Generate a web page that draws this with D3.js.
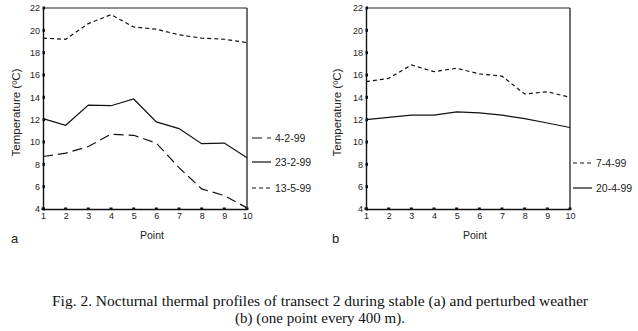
<!DOCTYPE html>
<html><head><meta charset="utf-8">
<script src="https://cdn.jsdelivr.net/npm/d3@7/dist/d3.min.js"></script>
<style>body{margin:0;background:#fff}svg{display:block}</style>
</head><body>
<svg id="c" width="638" height="331"></svg>
<script>
const points = [1,2,3,4,5,6,7,8,9,10];
const yTicks = [4,6,8,10,12,14,16,18,20,22];
// Panel a (stable weather)
const a_4_2_99  = [8.7, 9.0, 9.6, 10.7, 10.6, 9.9, 7.7, 5.8, 5.2, 4.1];
const a_23_2_99 = [12.1, 11.5, 13.3, 13.25, 13.85, 11.8, 11.2, 9.85, 9.9, 8.6];
const a_13_5_99 = [19.3, 19.2, 20.6, 21.4, 20.3, 20.1, 19.6, 19.3, 19.2, 18.9];
// Panel b (perturbed weather)
const b_7_4_99  = [15.4, 15.7, 16.9, 16.3, 16.6, 16.1, 15.9, 14.3, 14.5, 14.0];
const b_20_4_99 = [12.0, 12.2, 12.4, 12.4, 12.7, 12.6, 12.4, 12.1, 11.7, 11.3];
const legendA = ["4-2-99","23-2-99","13-5-99"];
const legendB = ["7-4-99","20-4-99"];
const caption1 = "Fig. 2. Nocturnal thermal profiles of transect 2 during stable (a) and perturbed weather";
const caption2 = "(b) (one point every 400 m).";

const svg = d3.select("#c");
const sans = "Arial, 'Liberation Sans', sans-serif";
const styles = {
  long: "10,5",
  short: "4,3",
  solid: null
};

function panel(cfg){
  const g = svg.append("g");
  const x = d3.scaleLinear().domain([1,10]).range([cfg.x0, cfg.x1]);
  const y = d3.scaleLinear().domain([4,22]).range([209, 8]);
  // frame (top & right)
  g.append("line").attr("x1",cfg.x0).attr("x2",cfg.x1).attr("y1",y(22)).attr("y2",y(22))
    .attr("stroke","#222").attr("stroke-width",1.2);
  g.append("line").attr("x1",cfg.x1).attr("x2",cfg.x1).attr("y1",y(22)).attr("y2",y(4))
    .attr("stroke","#222").attr("stroke-width",1.3);
  // axes
  const ya = g.append("g").attr("transform",`translate(${cfg.x0},0)`)
    .call(d3.axisLeft(y).tickValues(yTicks).tickSize(0).tickPadding(3).tickFormat(d3.format("d")));
  ya.select(".domain").attr("stroke","#111").attr("stroke-width",1.4);
  ya.selectAll("text").attr("font-family",sans).attr("font-size",9).attr("fill","#222");
  g.selectAll(".ytm").data(yTicks).join("rect").attr("class","ytm")
    .attr("x",cfg.x0-0.5).attr("y",d=>y(d)-1.5).attr("width",2.5).attr("height",3).attr("fill","#111");
  const xa = g.append("g").attr("transform",`translate(0,${y(4)})`)
    .call(d3.axisBottom(x).tickValues(points).tickSize(0).tickPadding(4).tickFormat(d3.format("d")));
  xa.select(".domain").attr("stroke","#111").attr("stroke-width",1.4);
  xa.selectAll("text").attr("font-family",sans).attr("font-size",9).attr("fill","#222");
  g.selectAll(".xtm").data(points).join("rect").attr("class","xtm")
    .attr("x",d=>x(d)-1.5).attr("y",y(4)-1.5).attr("width",3).attr("height",2.5).attr("fill","#111");
  // lines
  const line = d3.line().x((d,i)=>x(points[i])).y(d=>y(d));
  cfg.series.forEach(s=>{
    g.append("path").datum(s.values).attr("d",line).attr("fill","none")
      .attr("stroke","#111").attr("stroke-width",1.2)
      .attr("stroke-dasharray",styles[s.style]);
  });
  // legend
  cfg.series.forEach(s=>{
    g.append("line").attr("x1",cfg.lx).attr("x2",cfg.lx+19).attr("y1",s.ly).attr("y2",s.ly)
      .attr("stroke","#111").attr("stroke-width",1.2).attr("stroke-dasharray",styles[s.style]);
    g.append("text").attr("x",cfg.lx+23).attr("y",s.ly+4).attr("font-family",sans)
      .attr("font-size",10.5).attr("fill","#222").text(s.name);
  });
  // axis titles
  g.append("text").attr("transform",`translate(${cfg.ylx},${(y(4)+y(22))/2+4}) rotate(-90)`)
    .attr("text-anchor","middle").attr("font-family",sans).attr("font-size",11.5).attr("fill","#222")
    .text("Temperature (ºC)");
  g.append("text").attr("x",(cfg.x0+cfg.x1)/2+7).attr("y",239).attr("text-anchor","middle")
    .attr("font-family",sans).attr("font-size",10.5).attr("fill","#222").text("Point");
  g.append("text").attr("x",cfg.tagx).attr("y",243).attr("font-family",sans).attr("font-size",13)
    .attr("fill","#222").text(cfg.tag);
}

panel({x0:43, x1:247, lx:252, ylx:20, tagx:11, tag:"a",
  series:[
    {name:legendA[0], values:a_4_2_99, style:"long", ly:138},
    {name:legendA[1], values:a_23_2_99, style:"solid", ly:162},
    {name:legendA[2], values:a_13_5_99, style:"short", ly:188}
  ]});
panel({x0:366, x1:570, lx:573, ylx:341, tagx:332, tag:"b",
  series:[
    {name:legendB[0], values:b_7_4_99, style:"short", ly:163},
    {name:legendB[1], values:b_20_4_99, style:"solid", ly:188}
  ]});

const serif = "'Times New Roman', 'Liberation Serif', serif";
svg.append("text").attr("x",320).attr("y",306).attr("text-anchor","middle").attr("font-family",serif).attr("font-size",15)
  .attr("fill","#111").attr("textLength",536).attr("lengthAdjust","spacingAndGlyphs").text(caption1);
svg.append("text").attr("x",320).attr("y",323).attr("text-anchor","middle").attr("font-family",serif).attr("font-size",15)
  .attr("fill","#111").text(caption2);
</script>
</body></html>
